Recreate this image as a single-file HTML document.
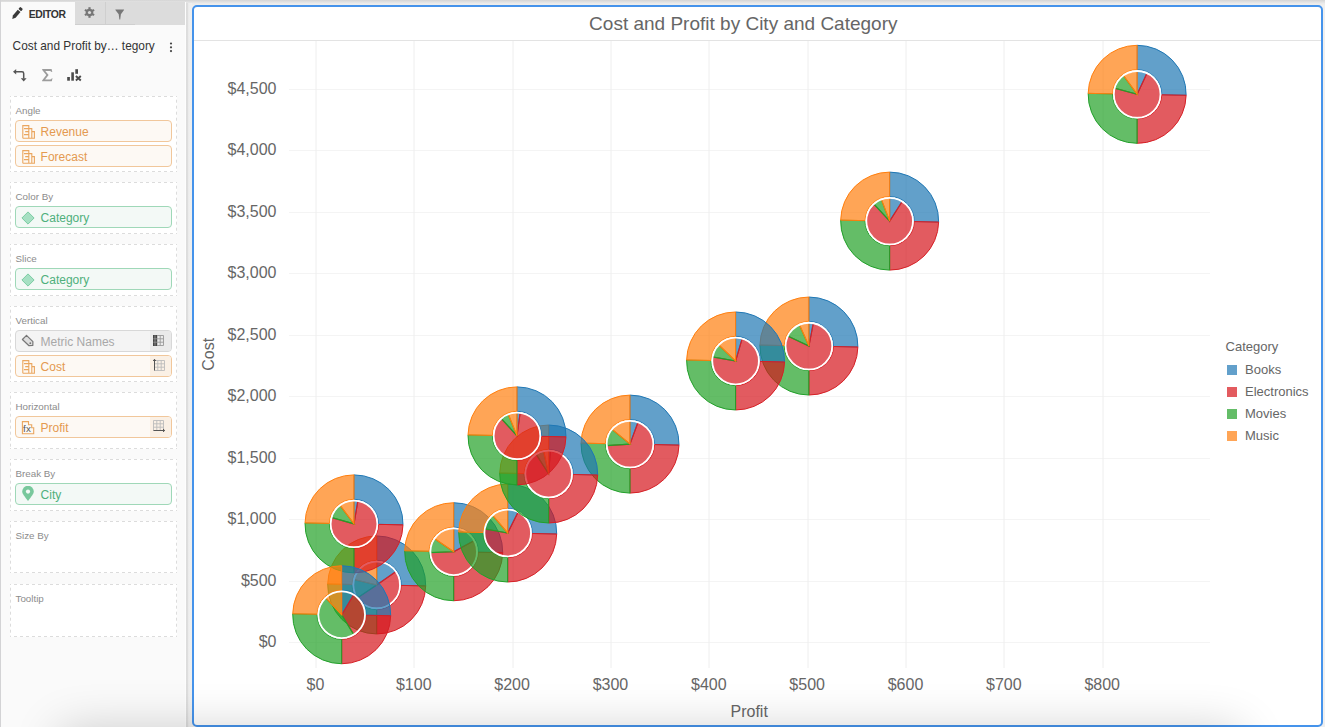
<!DOCTYPE html>
<html><head><meta charset="utf-8">
<style>
*{margin:0;padding:0;box-sizing:border-box}
html,body{width:1325px;height:727px;overflow:hidden;background:#efefef;font-family:"Liberation Sans",sans-serif}
.abs{position:absolute}
#topstrip{left:0;top:0;width:1325px;height:5px;background:linear-gradient(#d4d4d4,#e2e2e2 40%,#ececec 75%,#f2eee8)}
#panel{left:1px;top:2px;width:184px;height:725px;background:#fafafa}
#leftedge{left:0;top:0;width:1px;height:727px;background:#d3d3d5}
#sep{left:185px;top:2px;width:1px;height:725px;background:#fdfdfd}
#shadow{left:186px;top:3px;width:6px;height:724px;background:linear-gradient(to right,#dcdcdc,#dedede 25%,#eeeeee 45%,#efefef)}
#tabbar{left:75px;top:2px;width:110px;height:22.5px;background:#dcdcdc}
#tabdiv{left:105px;top:2px;width:1px;height:22.5px;background:#cfcfcf}
#tabline{left:75px;top:24px;width:60px;height:1px;background:#cfcfcf}
.lbl{font-size:9.5px;color:#8a8a8a}
.box{position:absolute;left:10px;width:167px;background-color:#fff;background-image:linear-gradient(to right,#dcdcdc 50%,transparent 50%),linear-gradient(to right,#dcdcdc 50%,transparent 50%),linear-gradient(to bottom,#dcdcdc 50%,transparent 50%),linear-gradient(to bottom,#dcdcdc 50%,transparent 50%);background-size:6px 1px,6px 1px,1px 6px,1px 6px;background-position:4px 0,4px 100%,0 3.7px,100% 3.7px;background-repeat:repeat-x,repeat-x,repeat-y,repeat-y}
.box .t{position:absolute;left:5.5px;top:9.3px;font-size:9.8px;color:#8c8c8c;line-height:12px}
.pill{position:absolute;left:5px;width:156.5px;height:21.5px;border:1px solid;border-radius:4px;font-size:12px;line-height:23.5px;padding-left:24.6px}
.po{border-color:#f1c79b;background:#fdf9f4;color:#e49a50}
.pg{border-color:#9fd8b8;background:#f3f9f6;color:#4fb07c}
.pm{border-color:#d8d8d8;background:#f4f4f4;color:#a8a8a8}
.pill .ic{position:absolute;left:6px;top:4px}
.pill .rt{position:absolute;right:0;top:0;width:20.3px;height:19.5px;border-radius:0 3px 3px 0}
#chart{left:192px;top:5px;width:1131px;height:722px;border:2px solid #4593eb;border-radius:5px;background:#fff;overflow:hidden}
#bottomshade{left:60px;top:730px;width:1180px;height:100px;box-shadow:0 0 48px 0 rgba(0,0,0,0.2);pointer-events:none}
</style></head><body>
<div class="abs" id="topstrip"></div>
<div class="abs" id="panel"></div>
<div class="abs" id="leftedge"></div>
<div class="abs" id="sep"></div>
<div class="abs" id="shadow"></div>
<div class="abs" id="tabbar"></div>
<div class="abs" id="tabdiv"></div>
<div class="abs" id="tabline"></div>

<!-- EDITOR tab -->
<svg class="abs" style="left:10px;top:6px" width="16" height="16" viewBox="0 0 16 16"><g transform="translate(2.3 13) rotate(-50)"><path d="M0 0 L3 -1.8 H10.6 V1.8 H3 Z" fill="#3a3a3a"/><rect x="11.6" y="-1.8" width="2.8" height="3.6" rx="0.8" fill="#3a3a3a"/></g></svg>
<div class="abs" style="left:28.7px;top:8.6px;font-size:10.4px;font-weight:bold;color:#333;letter-spacing:-0.35px">EDITOR</div>
<!-- gear -->
<svg class="abs" style="left:84.1px;top:7.1px" width="11" height="11" viewBox="-5.5 -5.5 11 11"><g fill="#777"><circle r="3.8"/><rect x="-1.1" y="-5.3" width="2.2" height="10.6"/><rect x="-1.1" y="-5.3" width="2.2" height="10.6" transform="rotate(60)"/><rect x="-1.1" y="-5.3" width="2.2" height="10.6" transform="rotate(120)"/></g><circle r="1.6" fill="#dcdcdc"/></svg>
<!-- filter -->
<svg class="abs" style="left:115px;top:8.6px" width="10" height="11" viewBox="0 0 10 11"><path d="M0.6 0.4 H8.8 Q9.3 0.4 9 1 L5.9 5.2 L5.2 10.4 H4.4 L3.7 5.2 L0.4 1 Q0.1 0.4 0.6 0.4 Z" fill="#777"/></svg>

<div class="abs" style="left:12.6px;top:39.1px;font-size:11.85px;color:#333;white-space:nowrap">Cost and Profit by… tegory</div>
<svg class="abs" style="left:169px;top:42px" width="4" height="11"><circle cx="2" cy="1.5" r="1.1" fill="#444"/><circle cx="2" cy="5.3" r="1.1" fill="#444"/><circle cx="2" cy="9.1" r="1.1" fill="#444"/></svg>

<!-- tool icons -->
<svg class="abs" style="left:0;top:60px" width="90" height="26" viewBox="0 60 90 26">
 <path d="M13 71.7 L16.2 68.9 V74.5 Z" fill="#555"/>
 <path d="M15.5 71.7 H22 Q23.7 71.7 23.7 73.4 V78.5" fill="none" stroke="#555" stroke-width="1.5"/>
 <path d="M20.8 78.2 H26.6 L23.7 81.4 Z" fill="#555"/>
 <path d="M42.2 69.1 H51.6 L52.3 71.9 H51.6 Q51 70.9 49.6 70.9 H45.3 L48.6 75.1 L45.1 79.4 H49.9 Q51.3 79.4 51.9 78.2 H52.5 L51.8 81.2 H42.1 V80.5 L46.3 75.1 L42.2 69.9 Z" fill="#9c9c9c"/>
 <rect x="67.2" y="77" width="2.7" height="3.7" fill="#4a4a4a"/>
 <rect x="71.3" y="72.3" width="2.6" height="8.4" fill="#4a4a4a"/>
 <rect x="75.3" y="69.2" width="2.7" height="4.6" fill="#4a4a4a"/>
 <path d="M75.9 76 L80.8 80.5 M80.8 76 L75.9 80.5" stroke="#4a4a4a" stroke-width="1.9"/>
</svg>

<!-- boxes -->
<div class="box" style="top:96.2px;height:75.5px"><div class="t">Angle</div>
 <div class="pill po" style="top:24.3px"><svg class="ic" style="left:6px;top:4px" width="14" height="14" viewBox="0 0 14 14"><g fill="none" stroke="#eaa65f" stroke-width="1.1"><path d="M0.8 13.2V0.6H6.8V13.2M6.8 3.6H9.8V13.2M9.8 6.6H12.4V13.2H0.8M2 3.6H6.8M3.2 6.6H6.8M2 9.6H6.8"/></g></svg>Revenue</div>
 <div class="pill po" style="top:48.9px"><svg class="ic" style="left:6px;top:4px" width="14" height="14" viewBox="0 0 14 14"><g fill="none" stroke="#eaa65f" stroke-width="1.1"><path d="M0.8 13.2V0.6H6.8V13.2M6.8 3.6H9.8V13.2M9.8 6.6H12.4V13.2H0.8M2 3.6H6.8M3.2 6.6H6.8M2 9.6H6.8"/></g></svg>Forecast</div>
</div>
<div class="box" style="top:181.9px;height:52px"><div class="t">Color By</div>
 <div class="pill pg" style="top:24.5px"><svg class="ic" style="left:5px;top:3.3px" width="14" height="14" viewBox="0 0 14 14"><path d="M7 0.9 L13.1 7 L7 13.1 L0.9 7Z" fill="#a6e0c3" stroke="#7accA2" stroke-width="1"/></svg>Category</div>
</div>
<div class="box" style="top:243.8px;height:52px"><div class="t">Slice</div>
 <div class="pill pg" style="top:24.5px"><svg class="ic" style="left:5px;top:3.3px" width="14" height="14" viewBox="0 0 14 14"><path d="M7 0.9 L13.1 7 L7 13.1 L0.9 7Z" fill="#a6e0c3" stroke="#7accA2" stroke-width="1"/></svg>Category</div>
</div>
<div class="box" style="top:305.6px;height:76px"><div class="t">Vertical</div>
 <div class="pill pm" style="top:24.8px"><svg class="ic" style="left:5px;top:2.5px" width="14" height="14" viewBox="0 0 14 14"><path d="M1.4 5.5 L5.5 1.3 L11.9 7.7 L11.8 11.5 L8 11.7 Z" fill="#dedede" stroke="#777" stroke-width="1.2" stroke-linejoin="round"/><circle cx="9.3" cy="9.2" r="0.9" fill="#777"/></svg>Metric Names<div class="rt" style="background:#eaeaea"><svg style="position:absolute;left:3px;top:4px" width="11" height="11" viewBox="0 0 11 11"><g fill="none" stroke="#999" stroke-width="0.9"><path d="M0.5 0.5H10.5V10.5H0.5Z M4 0.5V10.5 M7.2 0.5V10.5 M0.5 3.8H10.5 M0.5 7.2H10.5"/></g><rect x="0" y="0" width="4" height="11" fill="#444"/><path d="M0.3 3.8H4 M0.3 7.2H4 M2 0.3V10.7" stroke="#999" stroke-width="0.8"/></svg></div></div>
 <div class="pill po" style="top:49.8px"><svg class="ic" style="left:6px;top:4px" width="14" height="14" viewBox="0 0 14 14"><g fill="none" stroke="#eaa65f" stroke-width="1.1"><path d="M0.8 13.2V0.6H6.8V13.2M6.8 3.6H9.8V13.2M9.8 6.6H12.4V13.2H0.8M2 3.6H6.8M3.2 6.6H6.8M2 9.6H6.8"/></g></svg>Cost<div class="rt" style="background:#faf0e5"><svg style="position:absolute;left:3px;top:3px" width="12" height="12" viewBox="0 0 12 12"><g fill="none" stroke="#bbb" stroke-width="0.9"><path d="M1.5 1.5H11.5V11.5H1.5Z M4.8 1.5V11.5 M8.2 1.5V11.5 M1.5 4.8H11.5 M1.5 8.2H11.5"/></g><path d="M1.5 0.5V11.5 M0 2 L1.5 0.3 L3 2" stroke="#555" stroke-width="1" fill="none"/></svg></div></div>
</div>
<div class="box" style="top:392.2px;height:56.6px"><div class="t">Horizontal</div>
 <div class="pill po" style="top:24.0px"><svg class="ic" style="left:5px;top:2.5px" width="14" height="15" viewBox="0 0 14 15"><path d="M1.4 1.6H7.5V4.7H10.7V7.7H12.7V13.8H1.4Z" fill="none" stroke="#eaa65f" stroke-width="1.1"/><text x="1.9" y="12" font-size="9.8" fill="#555" font-family="Liberation Sans" letter-spacing="0.3">fx</text></svg>Profit<div class="rt" style="background:#faf0e5"><svg style="position:absolute;left:3px;top:3px" width="12" height="12" viewBox="0 0 12 12"><g fill="none" stroke="#bbb" stroke-width="0.9"><path d="M0.5 0.5H10.5V10.5H0.5Z M3.8 0.5V10.5 M7.2 0.5V10.5 M0.5 3.8H10.5 M0.5 7.2H10.5"/></g><path d="M0.5 10.5H11.5 M10 9 L11.7 10.5 L10 12" stroke="#555" stroke-width="1" fill="none"/></svg></div></div>
</div>
<div class="box" style="top:459.2px;height:51.6px"><div class="t">Break By</div>
 <div class="pill pg" style="top:24.0px"><svg class="ic" style="left:5px;top:2px" width="14" height="16" viewBox="0 0 14 16"><path d="M7 15 C3.2 10.2 1.2 7.6 1.2 5.6 A5.8 5.8 0 0 1 12.8 5.6 C12.8 7.6 10.8 10.2 7 15Z" fill="#78c89c"/><circle cx="7" cy="5.6" r="2.1" fill="#f3f9f6"/></svg>City</div>
</div>
<div class="box" style="top:521.2px;height:52.2px"><div class="t">Size By</div></div>
<div class="box" style="top:584.2px;height:52.6px"><div class="t">Tooltip</div></div>

<!-- chart -->
<div class="abs" id="chart"></div>
<svg class="abs" style="left:0;top:0" width="1325" height="727" viewBox="0 0 1325 727">
 <line x1="194" y1="40.5" x2="1321" y2="40.5" stroke="#e3e3e3" stroke-width="1"/>
 <g stroke="#f4f4f4" stroke-width="1">
<line x1="289" y1="642.50" x2="1210" y2="642.50"/>
<line x1="289" y1="581.50" x2="1210" y2="581.50"/>
<line x1="289" y1="519.50" x2="1210" y2="519.50"/>
<line x1="289" y1="458.50" x2="1210" y2="458.50"/>
<line x1="289" y1="396.50" x2="1210" y2="396.50"/>
<line x1="289" y1="335.50" x2="1210" y2="335.50"/>
<line x1="289" y1="273.50" x2="1210" y2="273.50"/>
<line x1="289" y1="212.50" x2="1210" y2="212.50"/>
<line x1="289" y1="150.50" x2="1210" y2="150.50"/>
<line x1="289" y1="89.50" x2="1210" y2="89.50"/>
<line x1="316.00" y1="41" x2="316.00" y2="668" stroke="#eeeeee"/>
<line x1="414.00" y1="41" x2="414.00" y2="668" stroke="#eeeeee"/>
<line x1="513.00" y1="41" x2="513.00" y2="668" stroke="#eeeeee"/>
<line x1="611.00" y1="41" x2="611.00" y2="668" stroke="#eeeeee"/>
<line x1="709.00" y1="41" x2="709.00" y2="668" stroke="#eeeeee"/>
<line x1="808.00" y1="41" x2="808.00" y2="668" stroke="#eeeeee"/>
<line x1="906.00" y1="41" x2="906.00" y2="668" stroke="#eeeeee"/>
<line x1="1004.00" y1="41" x2="1004.00" y2="668" stroke="#eeeeee"/>
<line x1="1103.00" y1="41" x2="1103.00" y2="668" stroke="#eeeeee"/>
 </g>
 <g font-family="Liberation Sans" font-size="16" fill="#666">
<text x="276.5" y="647.00" text-anchor="end">$0</text>
<text x="276.5" y="585.56" text-anchor="end">$500</text>
<text x="276.5" y="524.11" text-anchor="end">$1,000</text>
<text x="276.5" y="462.67" text-anchor="end">$1,500</text>
<text x="276.5" y="401.22" text-anchor="end">$2,000</text>
<text x="276.5" y="339.78" text-anchor="end">$2,500</text>
<text x="276.5" y="278.34" text-anchor="end">$3,000</text>
<text x="276.5" y="216.89" text-anchor="end">$3,500</text>
<text x="276.5" y="155.45" text-anchor="end">$4,000</text>
<text x="276.5" y="94.00" text-anchor="end">$4,500</text>
<text x="315.40" y="689.9" text-anchor="middle">$0</text>
<text x="413.75" y="689.9" text-anchor="middle">$100</text>
<text x="512.10" y="689.9" text-anchor="middle">$200</text>
<text x="610.45" y="689.9" text-anchor="middle">$300</text>
<text x="708.80" y="689.9" text-anchor="middle">$400</text>
<text x="807.15" y="689.9" text-anchor="middle">$500</text>
<text x="905.50" y="689.9" text-anchor="middle">$600</text>
<text x="1003.85" y="689.9" text-anchor="middle">$700</text>
<text x="1102.20" y="689.9" text-anchor="middle">$800</text>
 </g>
 <text x="743.3" y="30.3" font-family="Liberation Sans" font-size="19" fill="#666" text-anchor="middle">Cost and Profit by City and Category</text>
 <text x="749.2" y="716.8" font-family="Liberation Sans" font-size="16" fill="#666" text-anchor="middle">Profit</text>
 <text transform="translate(214.3 354.3) rotate(-90)" font-family="Liberation Sans" font-size="16" fill="#666" text-anchor="middle">Cost</text>
 <g font-family="Liberation Sans" font-size="13" fill="#666">
 <text x="1225.6" y="351">Category</text>
 <rect x="1227" y="365" width="10" height="10" fill="#62a0cb"/><text x="1245" y="374">Books</text>
 <rect x="1227" y="387" width="10" height="10" fill="#e35b5f"/><text x="1245" y="396">Electronics</text>
 <rect x="1227" y="409" width="10" height="10" fill="#64bd68"/><text x="1245" y="418">Movies</text>
 <rect x="1227" y="431" width="10" height="10" fill="#ffa556"/><text x="1245" y="440">Music</text>
 </g>
 <style>.b{fill:rgba(31,119,180,.7);stroke:#1f77b4}.r{fill:rgba(213,21,28,.7);stroke:#d62026}.g{fill:rgba(34,161,39,.7);stroke:#22a02a}.o{fill:rgba(255,127,14,.7);stroke:#ff7f0e}.b,.r,.g,.o{stroke-width:1.15}.oq{stroke-width:1}.w{fill:none;stroke:#fff;stroke-width:1.8}</style>
<g><path class="b oq" d="M376.7 535.95A49.0 49.0 0 0 1 425.69 585.89L401.3 585.42A24.6 24.6 0 0 0 376.7 560.35Z"/><path class="r oq" d="M425.69 585.89A49.0 49.0 0 0 1 376.7 633.95L376.7 609.55A24.6 24.6 0 0 0 401.3 585.42Z"/><path class="g oq" d="M376.7 633.95A49.0 49.0 0 0 1 327.71 584.01L352.1 584.48A24.6 24.6 0 0 0 376.7 609.55Z"/><path class="o oq" d="M327.71 584.01A49.0 49.0 0 0 1 376.7 535.95L376.7 560.35A24.6 24.6 0 0 0 352.1 584.48Z"/><path class="b" d="M376.7 584.95L376.7 561.95A23.0 23.0 0 0 1 395.59 571.82Z"/><path class="r" d="M376.7 584.95L395.59 571.82A23.0 23.0 0 1 1 357.63 597.81Z"/><path class="g" d="M376.7 584.95L357.63 597.81A23.0 23.0 0 0 1 354.33 579.62Z"/><path class="o" d="M376.7 584.95L354.33 579.62A23.0 23.0 0 0 1 376.7 561.95Z"/><circle class="w" cx="376.7" cy="584.95" r="23.3"/></g>
<g><path class="b oq" d="M354 474.9A49.0 49.0 0 0 1 402.99 524.84L378.6 524.37A24.6 24.6 0 0 0 354 499.3Z"/><path class="r oq" d="M402.99 524.84A49.0 49.0 0 0 1 354 572.9L354 548.5A24.6 24.6 0 0 0 378.6 524.37Z"/><path class="g oq" d="M354 572.9A49.0 49.0 0 0 1 305.01 522.96L329.4 523.43A24.6 24.6 0 0 0 354 548.5Z"/><path class="o oq" d="M305.01 522.96A49.0 49.0 0 0 1 354 474.9L354 499.3A24.6 24.6 0 0 0 329.4 523.43Z"/><path class="b" d="M354 523.9L354 500.9A23.0 23.0 0 0 1 357.8 501.22Z"/><path class="r" d="M354 523.9L357.8 501.22A23.0 23.0 0 1 1 331.87 517.64Z"/><path class="g" d="M354 523.9L331.87 517.64A23.0 23.0 0 0 1 340.13 505.56Z"/><path class="o" d="M354 523.9L340.13 505.56A23.0 23.0 0 0 1 354 500.9Z"/><circle class="w" cx="354" cy="523.9" r="23.3"/></g>
<g><path class="b oq" d="M341.7 565.74A49.0 49.0 0 0 1 390.69 615.68L366.3 615.21A24.6 24.6 0 0 0 341.7 590.14Z"/><path class="r oq" d="M390.69 615.68A49.0 49.0 0 0 1 341.7 663.74L341.7 639.34A24.6 24.6 0 0 0 366.3 615.21Z"/><path class="g oq" d="M341.7 663.74A49.0 49.0 0 0 1 292.71 613.8L317.1 614.27A24.6 24.6 0 0 0 341.7 639.34Z"/><path class="o oq" d="M292.71 613.8A49.0 49.0 0 0 1 341.7 565.74L341.7 590.14A24.6 24.6 0 0 0 317.1 614.27Z"/><path class="b" d="M341.7 614.74L341.7 591.74A23.0 23.0 0 0 1 353.48 594.98Z"/><path class="r" d="M341.7 614.74L353.48 594.98A23.0 23.0 0 0 1 353.65 634.39Z"/><path class="g" d="M341.7 614.74L353.65 634.39A23.0 23.0 0 0 1 325.87 598.06Z"/><path class="o" d="M341.7 614.74L325.87 598.06A23.0 23.0 0 0 1 341.7 591.74Z"/><circle class="w" cx="341.7" cy="614.74" r="23.3"/></g>
<g><path class="b oq" d="M453.7 502.74A49.0 49.0 0 0 1 502.69 552.68L478.3 552.21A24.6 24.6 0 0 0 453.7 527.14Z"/><path class="r oq" d="M502.69 552.68A49.0 49.0 0 0 1 453.7 600.74L453.7 576.34A24.6 24.6 0 0 0 478.3 552.21Z"/><path class="g oq" d="M453.7 600.74A49.0 49.0 0 0 1 404.71 550.8L429.1 551.27A24.6 24.6 0 0 0 453.7 576.34Z"/><path class="o oq" d="M404.71 550.8A49.0 49.0 0 0 1 453.7 502.74L453.7 527.14A24.6 24.6 0 0 0 429.1 551.27Z"/><path class="b" d="M453.7 551.74L453.7 528.74A23.0 23.0 0 0 1 473.93 540.8Z"/><path class="r" d="M453.7 551.74L473.93 540.8A23.0 23.0 0 1 1 430.71 552.54Z"/><path class="g" d="M453.7 551.74L430.71 552.54A23.0 23.0 0 0 1 434.7 538.78Z"/><path class="o" d="M453.7 551.74L434.7 538.78A23.0 23.0 0 0 1 453.7 528.74Z"/><circle class="w" cx="453.7" cy="551.74" r="23.3"/></g>
<g><path class="b oq" d="M507.7 484.02A49.0 49.0 0 0 1 556.69 533.96L532.3 533.49A24.6 24.6 0 0 0 507.7 508.42Z"/><path class="r oq" d="M556.69 533.96A49.0 49.0 0 0 1 507.7 582.02L507.7 557.62A24.6 24.6 0 0 0 532.3 533.49Z"/><path class="g oq" d="M507.7 582.02A49.0 49.0 0 0 1 458.71 532.08L483.1 532.55A24.6 24.6 0 0 0 507.7 557.62Z"/><path class="o oq" d="M458.71 532.08A49.0 49.0 0 0 1 507.7 484.02L507.7 508.42A24.6 24.6 0 0 0 483.1 532.55Z"/><path class="b" d="M507.7 533.02L507.7 510.02A23.0 23.0 0 0 1 517.89 512.4Z"/><path class="r" d="M507.7 533.02L517.89 512.4A23.0 23.0 0 1 1 485.05 529.03Z"/><path class="g" d="M507.7 533.02L485.05 529.03A23.0 23.0 0 0 1 492.76 515.53Z"/><path class="o" d="M507.7 533.02L492.76 515.53A23.0 23.0 0 0 1 507.7 510.02Z"/><circle class="w" cx="507.7" cy="533.02" r="23.3"/></g>
<g><path class="b oq" d="M630 395.1A49.0 49.0 0 0 1 678.99 445.04L654.6 444.57A24.6 24.6 0 0 0 630 419.5Z"/><path class="r oq" d="M678.99 445.04A49.0 49.0 0 0 1 630 493.1L630 468.7A24.6 24.6 0 0 0 654.6 444.57Z"/><path class="g oq" d="M630 493.1A49.0 49.0 0 0 1 581.01 443.16L605.4 443.63A24.6 24.6 0 0 0 630 468.7Z"/><path class="o oq" d="M581.01 443.16A49.0 49.0 0 0 1 630 395.1L630 419.5A24.6 24.6 0 0 0 605.4 443.63Z"/><path class="b" d="M630 444.1L630 421.1A23.0 23.0 0 0 1 637.9 422.5Z"/><path class="r" d="M630 444.1L637.9 422.5A23.0 23.0 0 1 1 607.05 445.58Z"/><path class="g" d="M630 444.1L607.05 445.58A23.0 23.0 0 0 1 612.23 429.5Z"/><path class="o" d="M630 444.1L612.23 429.5A23.0 23.0 0 0 1 630 421.1Z"/><circle class="w" cx="630" cy="444.1" r="23.3"/></g>
<g><path class="b oq" d="M548.7 425.02A49.0 49.0 0 0 1 597.69 474.96L573.3 474.49A24.6 24.6 0 0 0 548.7 449.42Z"/><path class="r oq" d="M597.69 474.96A49.0 49.0 0 0 1 548.7 523.02L548.7 498.62A24.6 24.6 0 0 0 573.3 474.49Z"/><path class="g oq" d="M548.7 523.02A49.0 49.0 0 0 1 499.71 473.08L524.1 473.55A24.6 24.6 0 0 0 548.7 498.62Z"/><path class="o oq" d="M499.71 473.08A49.0 49.0 0 0 1 548.7 425.02L548.7 449.42A24.6 24.6 0 0 0 524.1 473.55Z"/><path class="b" d="M548.7 474.02L548.7 451.02A23.0 23.0 0 0 1 550.3 451.08Z"/><path class="r" d="M548.7 474.02L550.3 451.08A23.0 23.0 0 1 1 536.34 454.62Z"/><path class="g" d="M548.7 474.02L536.34 454.62A23.0 23.0 0 0 1 543.72 451.57Z"/><path class="o" d="M548.7 474.02L543.72 451.57A23.0 23.0 0 0 1 548.7 451.02Z"/><circle class="w" cx="548.7" cy="474.02" r="23.3"/></g>
<g><path class="b oq" d="M517 386.9A49.0 49.0 0 0 1 565.99 436.84L541.6 436.37A24.6 24.6 0 0 0 517 411.3Z"/><path class="r oq" d="M565.99 436.84A49.0 49.0 0 0 1 517 484.9L517 460.5A24.6 24.6 0 0 0 541.6 436.37Z"/><path class="g oq" d="M517 484.9A49.0 49.0 0 0 1 468.01 434.96L492.4 435.43A24.6 24.6 0 0 0 517 460.5Z"/><path class="o oq" d="M468.01 434.96A49.0 49.0 0 0 1 517 386.9L517 411.3A24.6 24.6 0 0 0 492.4 435.43Z"/><path class="b" d="M517 435.9L517 412.9A23.0 23.0 0 0 1 520.08 413.11Z"/><path class="r" d="M517 435.9L520.08 413.11A23.0 23.0 0 1 1 501.55 418.86Z"/><path class="g" d="M517 435.9L501.55 418.86A23.0 23.0 0 0 1 508.35 414.59Z"/><path class="o" d="M517 435.9L508.35 414.59A23.0 23.0 0 0 1 517 412.9Z"/><circle class="w" cx="517" cy="435.9" r="23.3"/></g>
<g><path class="b oq" d="M808.9 297.04A49.0 49.0 0 0 1 857.89 346.98L833.5 346.51A24.6 24.6 0 0 0 808.9 321.44Z"/><path class="r oq" d="M857.89 346.98A49.0 49.0 0 0 1 808.9 395.04L808.9 370.64A24.6 24.6 0 0 0 833.5 346.51Z"/><path class="g oq" d="M808.9 395.04A49.0 49.0 0 0 1 759.91 345.1L784.3 345.57A24.6 24.6 0 0 0 808.9 370.64Z"/><path class="o oq" d="M759.91 345.1A49.0 49.0 0 0 1 808.9 297.04L808.9 321.44A24.6 24.6 0 0 0 784.3 345.57Z"/><path class="b" d="M808.9 346.04L808.9 323.04A23.0 23.0 0 0 1 813.25 323.45Z"/><path class="r" d="M808.9 346.04L813.25 323.45A23.0 23.0 0 1 1 788.12 336.17Z"/><path class="g" d="M808.9 346.04L788.12 336.17A23.0 23.0 0 0 1 799.51 325.04Z"/><path class="o" d="M808.9 346.04L799.51 325.04A23.0 23.0 0 0 1 808.9 323.04Z"/><circle class="w" cx="808.9" cy="346.04" r="23.3"/></g>
<g><path class="b oq" d="M735.6 311.98A49.0 49.0 0 0 1 784.59 361.92L760.2 361.45A24.6 24.6 0 0 0 735.6 336.38Z"/><path class="r oq" d="M784.59 361.92A49.0 49.0 0 0 1 735.6 409.98L735.6 385.58A24.6 24.6 0 0 0 760.2 361.45Z"/><path class="g oq" d="M735.6 409.98A49.0 49.0 0 0 1 686.61 360.04L711 360.51A24.6 24.6 0 0 0 735.6 385.58Z"/><path class="o oq" d="M686.61 360.04A49.0 49.0 0 0 1 735.6 311.98L735.6 336.38A24.6 24.6 0 0 0 711 360.51Z"/><path class="b" d="M735.6 360.98L735.6 337.98A23.0 23.0 0 0 1 742.06 338.9Z"/><path class="r" d="M735.6 360.98L742.06 338.9A23.0 23.0 0 1 1 712.96 356.95Z"/><path class="g" d="M735.6 360.98L712.96 356.95A23.0 23.0 0 0 1 718.92 345.15Z"/><path class="o" d="M735.6 360.98L718.92 345.15A23.0 23.0 0 0 1 735.6 337.98Z"/><circle class="w" cx="735.6" cy="360.98" r="23.3"/></g>
<g><path class="b oq" d="M889.65 172.1A49.0 49.0 0 0 1 938.64 222.04L914.25 221.57A24.6 24.6 0 0 0 889.65 196.5Z"/><path class="r oq" d="M938.64 222.04A49.0 49.0 0 0 1 889.65 270.1L889.65 245.7A24.6 24.6 0 0 0 914.25 221.57Z"/><path class="g oq" d="M889.65 270.1A49.0 49.0 0 0 1 840.66 220.16L865.05 220.63A24.6 24.6 0 0 0 889.65 245.7Z"/><path class="o oq" d="M840.66 220.16A49.0 49.0 0 0 1 889.65 172.1L889.65 196.5A24.6 24.6 0 0 0 865.05 220.63Z"/><path class="b" d="M889.65 221.1L889.65 198.1A23.0 23.0 0 0 1 902.01 201.7Z"/><path class="r" d="M889.65 221.1L902.01 201.7A23.0 23.0 0 1 1 874.02 204.22Z"/><path class="g" d="M889.65 221.1L874.02 204.22A23.0 23.0 0 0 1 881.41 199.63Z"/><path class="o" d="M889.65 221.1L881.41 199.63A23.0 23.0 0 0 1 889.65 198.1Z"/><circle class="w" cx="889.65" cy="221.1" r="23.3"/></g>
<g><path class="b oq" d="M1137.15 45.3A49.0 49.0 0 0 1 1186.14 95.24L1161.75 94.77A24.6 24.6 0 0 0 1137.15 69.7Z"/><path class="r oq" d="M1186.14 95.24A49.0 49.0 0 0 1 1137.15 143.3L1137.15 118.9A24.6 24.6 0 0 0 1161.75 94.77Z"/><path class="g oq" d="M1137.15 143.3A49.0 49.0 0 0 1 1088.16 93.36L1112.55 93.83A24.6 24.6 0 0 0 1137.15 118.9Z"/><path class="o oq" d="M1088.16 93.36A49.0 49.0 0 0 1 1137.15 45.3L1137.15 69.7A24.6 24.6 0 0 0 1112.55 93.83Z"/><path class="b" d="M1137.15 94.3L1137.15 71.3A23.0 23.0 0 0 1 1146.83 73.44Z"/><path class="r" d="M1137.15 94.3L1146.83 73.44A23.0 23.0 0 1 1 1114.94 88.31Z"/><path class="g" d="M1137.15 94.3L1114.94 88.31A23.0 23.0 0 0 1 1123.6 75.72Z"/><path class="o" d="M1137.15 94.3L1123.6 75.72A23.0 23.0 0 0 1 1137.15 71.3Z"/><circle class="w" cx="1137.15" cy="94.3" r="23.3"/></g>
</svg>
<div class="abs" id="bottomshade"></div>
</body></html>
